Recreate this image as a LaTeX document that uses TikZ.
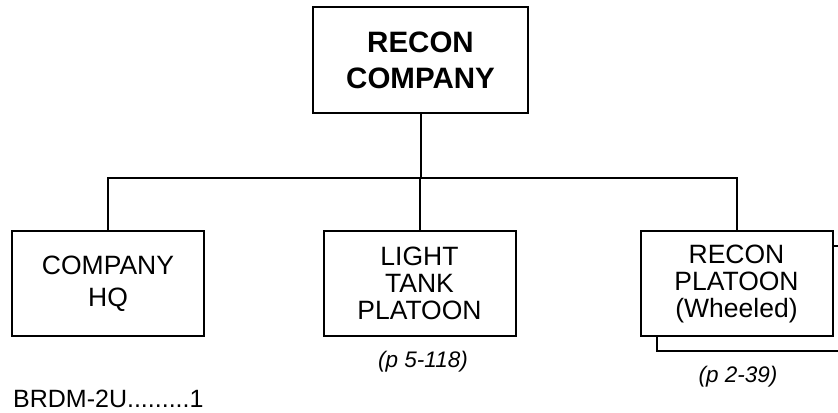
\documentclass[tikz,border=0pt]{standalone}
\usepackage{fontspec}
\setmainfont{Liberation Sans}
\begin{document}
\begin{tikzpicture}[x=1bp,y=-1bp,
  unitbox/.style={draw=black,line width=2bp,fill=white,inner sep=0pt,
    minimum width=192bp,minimum height=105bp,align=center,
    font=\fontsize{26.5bp}{27bp}\selectfont},
  topbox/.style={unitbox,minimum width=215bp,minimum height=106bp,
    font=\fontsize{29.5bp}{36bp}\selectfont\bfseries},
  ref/.style={inner sep=0pt,anchor=base,font=\fontsize{22.5bp}{26bp}\selectfont\itshape},
  conn/.style={draw=black,line width=2bp}]
\clip (0,0) rectangle (838,412);
\fill[white] (0,0) rectangle (838,412);
\node[topbox] (top) at (420.5,60) {RECON\\COMPANY};
\node[unitbox,font=\fontsize{26.5bp}{32bp}\selectfont] (hq) at (108,283.5) {COMPANY\\HQ};
\node[unitbox] (tank) at (419.5,283.5) {LIGHT\\TANK\\PLATOON};
\node[unitbox] (reconback) at (752.5,298.5) {};
\node[unitbox] (recon) at (736.5,283.5) {RECON\\PLATOON\\(Wheeled)};
\coordinate (bus) at (0,178);
\draw[conn] (top.south) -- (top.south |- bus);
\draw[conn] (hq.north) -- (hq.north |- bus) -- (recon.north |- bus) -- (recon.north);
\draw[conn] (tank.north) -- (tank.north |- bus);
\node[ref] (tankref) at (423,367) {(p 5-118)};
\node[ref] (reconref) at (738,382) {(p 2-39)};
\node[inner sep=0pt,anchor=base west,font=\fontsize{25bp}{28bp}\selectfont] (brdm) at (13,407) {BRDM-2U.........1};
\end{tikzpicture}
\end{document}
